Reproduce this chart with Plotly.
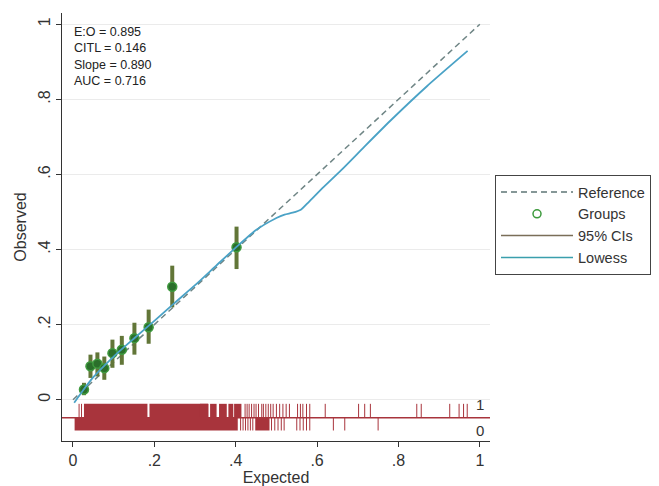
import plotly.graph_objects as go

# ---- data ----
grp_x = [0.027, 0.043, 0.060, 0.077, 0.097, 0.120, 0.151, 0.186, 0.244, 0.402]
grp_y = [0.027, 0.089, 0.096, 0.084, 0.124, 0.133, 0.164, 0.193, 0.301, 0.406]
grp_lo = [0.012, 0.058, 0.062, 0.053, 0.085, 0.093, 0.120, 0.149, 0.246, 0.348]
grp_hi = [0.045, 0.120, 0.126, 0.115, 0.160, 0.170, 0.205, 0.240, 0.357, 0.461]

lowess_x = [0.003, 0.02, 0.05, 0.10, 0.15, 0.20, 0.25, 0.30, 0.35, 0.40, 0.45,
            0.50, 0.52, 0.54, 0.56, 0.58, 0.61, 0.66, 0.72, 0.78, 0.87, 0.97]
lowess_y = [-0.008, 0.018, 0.060, 0.115, 0.163, 0.210, 0.258, 0.305, 0.355, 0.405, 0.452,
            0.484, 0.493, 0.498, 0.506, 0.527, 0.560, 0.612, 0.678, 0.743, 0.835, 0.929]

ref_x = [0, 1]
ref_y = [0, 1]

# rug for outcome = 1 (dense spans + single ticks)
rug1_span_lo = [0.027, 0.188, 0.312, 0.337, 0.359, 0.382, 0.396]
rug1_span_hi = [0.183, 0.332, 0.333, 0.353, 0.378, 0.394, 0.414]
rug1_ticks = [0.015, 0.021, 0.423, 0.428, 0.433, 0.439, 0.445, 0.450, 0.456, 0.464,
              0.468, 0.474, 0.480, 0.486, 0.492, 0.500, 0.508, 0.516, 0.524, 0.532,
              0.552, 0.559, 0.565, 0.574, 0.582, 0.620, 0.702, 0.717, 0.731,
              0.845, 0.856, 0.926, 0.949, 0.960, 0.969]
# rug for outcome = 0
rug0_span_lo = [0.004, 0.448]
rug0_span_hi = [0.405, 0.483]
rug0_ticks = [0.412, 0.418, 0.424, 0.430, 0.436, 0.442, 0.488, 0.496, 0.504, 0.512,
              0.519, 0.550, 0.558, 0.566, 0.574, 0.582, 0.640, 0.668, 0.750]

stats_labels = ["E:O = 0.895", "CITL = 0.146", "Slope = 0.890", "AUC = 0.716"]

x_tickvals = [0, 0.2, 0.4, 0.6, 0.8, 1]
x_ticktext = ["0", ".2", ".4", ".6", ".8", "1"]
y_tickvals = [0, 0.2, 0.4, 0.6, 0.8, 1]
y_ticktext = ["0", ".2", ".4", ".6", ".8", "1"]

# ---- style ----
FONT = "Arial, Liberation Sans, Helvetica, sans-serif"
RUG_COL = "#a8343c"
REF_COL = "#6f8585"
GRP_FILL = "#2b6f2b"
GRP_LINE = "#3f9a3f"
CI_COL = "#627638"
LOW_COL = "#4aa2c6"
AX_COL = "#333333"
RUG_TOP, RUG_MID, RUG_BOT = -0.011, -0.048, -0.082

fig = go.Figure()

def segs(xs, y0, y1):
    sx, sy = [], []
    for v in xs:
        sx += [v, v, None]
        sy += [y0, y1, None]
    return sx, sy

# rug single ticks
sx, sy = segs(rug1_ticks, RUG_MID, RUG_TOP)
fig.add_trace(go.Scatter(x=sx, y=sy, mode="lines", line=dict(color=RUG_COL, width=1),
                         showlegend=False, hoverinfo="skip"))
sx, sy = segs(rug0_ticks, RUG_MID, RUG_BOT)
fig.add_trace(go.Scatter(x=sx, y=sy, mode="lines", line=dict(color=RUG_COL, width=1),
                         showlegend=False, hoverinfo="skip"))

shapes = []
for a, b in zip(rug1_span_lo, rug1_span_hi):
    shapes.append(dict(type="rect", xref="x", yref="y", x0=a, x1=b, y0=RUG_MID, y1=RUG_TOP,
                       fillcolor=RUG_COL, line=dict(width=0), layer="above"))
for a, b in zip(rug0_span_lo, rug0_span_hi):
    shapes.append(dict(type="rect", xref="x", yref="y", x0=a, x1=b, y0=RUG_BOT, y1=RUG_MID,
                       fillcolor=RUG_COL, line=dict(width=0), layer="above"))
shapes.append(dict(type="line", xref="paper", yref="y", x0=0, x1=1, y0=RUG_MID, y1=RUG_MID,
                   line=dict(color=RUG_COL, width=1.5), layer="above"))

# reference line
fig.add_trace(go.Scatter(x=ref_x, y=ref_y, mode="lines",
                         line=dict(color=REF_COL, width=1.5, dash="6px,4px"),
                         showlegend=False, hoverinfo="skip"))
# CIs
cx, cy = [], []
for x, lo, hi in zip(grp_x, grp_lo, grp_hi):
    cx += [x, x, None]
    cy += [lo, hi, None]
fig.add_trace(go.Scatter(x=cx, y=cy, mode="lines", line=dict(color=CI_COL, width=4),
                         showlegend=False, hoverinfo="skip"))
# groups
fig.add_trace(go.Scatter(x=grp_x, y=grp_y, mode="markers",
                         marker=dict(symbol="circle", size=9, color=GRP_FILL,
                                     line=dict(color=GRP_LINE, width=1.5)),
                         showlegend=False))
# lowess
fig.add_trace(go.Scatter(x=lowess_x, y=lowess_y, mode="lines", line_shape="spline",
                         line=dict(color=LOW_COL, width=1.8, smoothing=0.6), showlegend=False))

# legend entries
fig.add_trace(go.Scatter(x=[None], y=[None], mode="lines", name="Reference",
                         line=dict(color="#5e7575", width=1.5, dash="6px,4px")))
fig.add_trace(go.Scatter(x=[None], y=[None], mode="markers", name="Groups",
                         marker=dict(symbol="circle-open", size=8, color="#3c9a3c",
                                     line=dict(width=1.5))))
fig.add_trace(go.Scatter(x=[None], y=[None], mode="lines", name="95% CIs",
                         line=dict(color="#7a6e58", width=1.5)))
fig.add_trace(go.Scatter(x=[None], y=[None], mode="lines", name="Lowess",
                         line=dict(color="#3a9fad", width=1.5)))

annotations = []
annotations.append(dict(x=0.0, y=1.002, xref="x", yref="y", text="<br>".join(stats_labels),
                        showarrow=False, xanchor="left", yanchor="top", align="left",
                        borderpad=0,
                        font=dict(family=FONT, size=12.5, color="#222222")))
annotations.append(dict(x=1.0, y=-0.013, xref="x", yref="y", text="1", showarrow=False,
                        xanchor="center", yanchor="middle",
                        font=dict(family=FONT, size=15, color="#333333")))
annotations.append(dict(x=1.0, y=-0.082, xref="x", yref="y", text="0", showarrow=False,
                        xanchor="center", yanchor="middle",
                        font=dict(family=FONT, size=15, color="#333333")))

# the page body adds an 8px margin, so the figure is 8px smaller than the window
fig.update_layout(
    width=651, height=478,
    margin=dict(l=54, r=169, t=5, b=45, autoexpand=False),
    paper_bgcolor="white", plot_bgcolor="white",
    font=dict(family=FONT, size=15, color="#333333"),
    shapes=shapes, annotations=annotations,
    legend=dict(x=1.0117, y=0.6215, xanchor="left", yanchor="top",
                bordercolor="#444444", borderwidth=1, bgcolor="white",
                font=dict(family=FONT, size=14.5, color="#333333"),
                itemwidth=72, tracegroupgap=0),
    xaxis=dict(range=[-0.027, 1.025], tickvals=x_tickvals, ticktext=x_ticktext,
               showgrid=False, zeroline=False, showline=True, linecolor=AX_COL, linewidth=1,
               ticks="outside", ticklen=5, tickcolor=AX_COL, tickwidth=1,
               tickfont=dict(family=FONT, size=16, color="#333333"),
               title=dict(text="Expected", font=dict(family=FONT, size=16, color="#333333"),
                          standoff=4),
               automargin=False),
    yaxis=dict(range=[-0.11, 1.03], tickvals=y_tickvals, ticktext=y_ticktext,
               tickangle=-90, showgrid=True, gridcolor="#ebebeb", gridwidth=1,
               zeroline=False, showline=True, linecolor=AX_COL, linewidth=1,
               ticks="outside", ticklen=5, tickcolor=AX_COL, tickwidth=1,
               tickfont=dict(family=FONT, size=16, color="#333333"),
               title=dict(text="Observed", font=dict(family=FONT, size=16, color="#333333"),
                          standoff=4),
               automargin=False),
)

fig.write_html("out.html")
